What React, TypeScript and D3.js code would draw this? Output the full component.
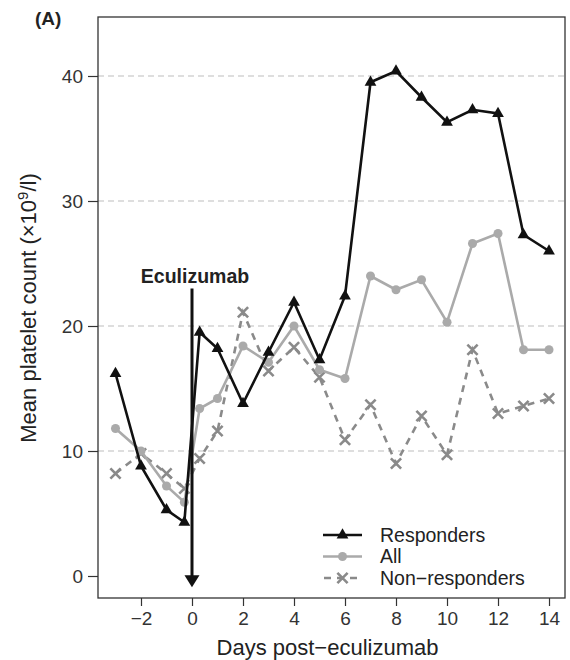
import React, { useEffect, useRef } from 'react';
import * as d3 from 'd3';

// days sampled; the two points around 0 are pre/post dose
const days = [-3, -2, -1, -0.3, 0.3, 1, 2, 3, 4, 5, 6, 7, 8, 9, 10, 11, 12, 13, 14];
const responders = [16.2, 8.8, 5.3, 4.3, 19.5, 18.2, 13.8, 17.9, 21.9, 17.3, 22.4, 39.5, 40.4, 38.3, 36.3, 37.3, 37.0, 27.3, 26.0];
const allPatients = [11.8, 10.0, 7.2, 5.9, 13.4, 14.2, 18.4, 17.1, 20.0, 16.5, 15.8, 24.0, 22.9, 23.7, 20.3, 26.6, 27.4, 18.1, 18.1];
const nonResponders = [8.2, 9.8, 8.2, 7.0, 9.4, 11.6, 21.1, 16.4, 18.3, 15.9, 10.9, 13.7, 9.0, 12.8, 9.7, 18.1, 13.0, 13.6, 14.2];

const xTicks = [-2, 0, 2, 4, 6, 8, 10, 12, 14];
const yTicks = [0, 10, 20, 30, 40];
const gridValues = [10, 20, 30, 40];

const arrowDay = 0;
const arrowTop = 23.0;
const arrowTip = -0.9;

const FONT = "'Liberation Sans', Arial, Helvetica, sans-serif";

const App: React.FC = () => {
  const svgRef = useRef<SVGSVGElement>(null);

  useEffect(() => {
    if (!svgRef.current) return;
    const svg = d3.select(svgRef.current);
    svg.selectAll('*').remove();

    const left = 98, right = 565, top = 17, bottom = 598;

    const x = d3.scaleLinear().domain([-3.686, 14.627]).range([left, right]);
    const y = d3.scaleLinear().domain([-1.76, 44.72]).range([bottom, top]);

    // grid
    svg.selectAll('.grid')
      .data(gridValues)
      .enter().append('line')
      .attr('x1', left).attr('x2', right)
      .attr('y1', d => y(d)).attr('y2', d => y(d))
      .attr('stroke', '#bdbdbd')
      .attr('stroke-width', 1)
      .attr('stroke-dasharray', '6,4');

    // axes
    const xAxis = svg.append('g')
      .attr('transform', `translate(0,${bottom})`)
      .call(d3.axisBottom(x).tickValues(xTicks).tickSize(8).tickPadding(6)
        .tickFormat(d => (d as number) < 0 ? `\u2212${Math.abs(d as number)}` : `${d}`));
    xAxis.select('.domain').remove();
    xAxis.selectAll('.tick line').attr('stroke', '#333').attr('stroke-width', 1.2);
    xAxis.selectAll('.tick text')
      .attr('fill', '#333')
      .attr('font-family', FONT)
      .attr('font-size', 19);

    const yAxis = svg.append('g')
      .attr('transform', `translate(${left},0)`)
      .call(d3.axisLeft(y).tickValues(yTicks).tickSize(10).tickPadding(5));
    yAxis.select('.domain').remove();
    yAxis.selectAll('.tick line').attr('stroke', '#333').attr('stroke-width', 1.2);
    yAxis.selectAll('.tick text')
      .attr('fill', '#333')
      .attr('font-family', FONT)
      .attr('font-size', 19);

    // frame
    svg.append('rect')
      .attr('x', left).attr('y', top)
      .attr('width', right - left).attr('height', bottom - top)
      .attr('fill', 'none')
      .attr('stroke', '#333')
      .attr('stroke-width', 1.3);

    const line = d3.line<[number, number]>()
      .x(d => x(d[0]))
      .y(d => y(d[1]));

    const series = [
      { name: 'Non\u2212responders', values: nonResponders, color: '#8a8a8a', dash: '7,6', symbol: d3.symbolTimes, size: 70, filled: false },
      { name: 'All', values: allPatients, color: '#aaaaaa', dash: null, symbol: d3.symbolCircle, size: 64, filled: true },
      { name: 'Responders', values: responders, color: '#111111', dash: null, symbol: d3.symbolTriangle, size: 60, filled: true },
    ];

    series.forEach(s => {
      const pts = days.map((d, i) => [d, s.values[i]] as [number, number]);
      const path = svg.append('path')
        .datum(pts)
        .attr('fill', 'none')
        .attr('stroke', s.color)
        .attr('stroke-width', 2.6)
        .attr('d', line);
      if (s.dash) path.attr('stroke-dasharray', s.dash);

      const sym = d3.symbol().type(s.symbol).size(s.size);
      svg.selectAll(null)
        .data(pts)
        .enter().append('path')
        .attr('transform', d => `translate(${x(d[0])},${y(d[1])})`)
        .attr('d', sym() as string)
        .attr('fill', s.filled ? s.color : 'none')
        .attr('stroke', s.filled ? 'none' : s.color)
        .attr('stroke-width', s.filled ? 0 : 2.6);
    });

    // eculizumab arrow
    const ax = x(arrowDay);
    const tipY = y(arrowTip);
    svg.append('line')
      .attr('x1', ax).attr('x2', ax)
      .attr('y1', y(arrowTop)).attr('y2', tipY - 8)
      .attr('stroke', '#111')
      .attr('stroke-width', 3);
    svg.append('path')
      .attr('d', `M${ax - 7.5},${tipY - 12}L${ax + 7.5},${tipY - 12}L${ax},${tipY}Z`)
      .attr('fill', '#111');
    svg.append('text')
      .attr('x', ax + 3)
      .attr('y', y(arrowTop) - 6)
      .attr('text-anchor', 'middle')
      .attr('font-family', FONT)
      .attr('font-weight', 'bold')
      .attr('font-size', 19.5)
      .attr('fill', '#222')
      .text('Eculizumab');

    // legend
    const legend = svg.append('g').attr('transform', 'translate(323,535)');
    [...series].reverse().forEach((s, i) => {
      const row = legend.append('g').attr('transform', `translate(0,${i * 21.5})`);
      const l = row.append('line')
        .attr('x1', 0).attr('x2', 39)
        .attr('y1', 0).attr('y2', 0)
        .attr('stroke', s.color)
        .attr('stroke-width', 2.6);
      if (s.dash) l.attr('stroke-dasharray', '7,6').attr('stroke-dashoffset', -1);
      row.append('path')
        .attr('transform', 'translate(19.5,0)')
        .attr('d', d3.symbol().type(s.symbol).size(s.size)() as string)
        .attr('fill', s.filled ? s.color : 'none')
        .attr('stroke', s.filled ? 'none' : s.color)
        .attr('stroke-width', s.filled ? 0 : 2.6);
      row.append('text')
        .attr('x', 57)
        .attr('dy', '0.35em')
        .attr('font-family', FONT)
        .attr('font-size', 19.5)
        .attr('fill', '#222')
        .text(s.name);
    });

    // titles
    svg.append('text')
      .attr('x', (left + right) / 2 - 4)
      .attr('y', 655)
      .attr('text-anchor', 'middle')
      .attr('font-family', FONT)
      .attr('font-size', 22)
      .attr('fill', '#222')
      .text('Days post\u2212eculizumab');

    const yt = svg.append('text')
      .attr('transform', 'translate(36,308) rotate(-90)')
      .attr('text-anchor', 'middle')
      .attr('font-family', FONT)
      .attr('font-size', 22)
      .attr('fill', '#222');
    yt.append('tspan').text('Mean platelet count (\u00d710');
    yt.append('tspan').attr('dy', -8).attr('font-size', 15).text('9');
    yt.append('tspan').attr('dy', 8).text('/l)');

    svg.append('text')
      .attr('x', 35)
      .attr('y', 25)
      .attr('font-family', FONT)
      .attr('font-weight', 'bold')
      .attr('font-size', 19)
      .attr('fill', '#222')
      .text('(A)');
  }, []);

  return (
    <svg
      ref={svgRef}
      width={570}
      height={660}
      style={{ position: 'absolute', left: 0, top: 0, background: '#fff' }}
    />
  );
};

export default App;
